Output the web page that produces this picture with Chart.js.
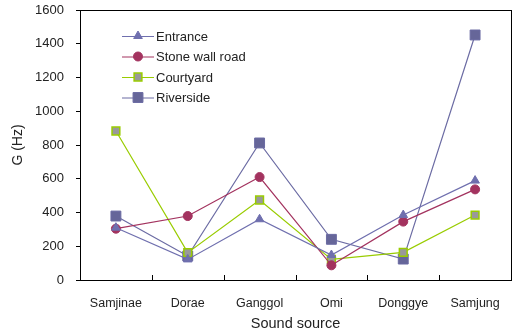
<!DOCTYPE html>
<html>
<head>
<meta charset="utf-8">
<script src="https://cdn.jsdelivr.net/npm/chart.js@4/dist/chart.umd.min.js"></script>
<style>
  html, body { margin: 0; padding: 0; background: #fff; }
  #wrap { width: 519px; height: 336px; }
</style>
</head>
<body>
<div id="wrap"><canvas id="gchart"></canvas></div>
<script>
// categories along x
const sources = ['Samjinae', 'Dorae', 'Ganggol', 'Omi', 'Donggye', 'Samjung'];
// G (Hz) per site
const entrance   = [310, 122, 360, 148, 385, 589];
const stoneWall  = [304, 379, 610, 87, 346, 537];
const courtyard  = [883, 162, 474, 122, 164, 385];
const riverside  = [379, 142, 812, 241, 124, 1452];
const yTicks = [0, 200, 400, 600, 800, 1000, 1200, 1400, 1600];

const FONT = '"Liberation Sans", Arial, sans-serif';
const ctx = document.querySelector('#gchart');

// box round the plot, inward ticks on x, and the legend inside the plot
const extras = {
  id: 'extras',
  afterDraw(chart) {
    const c = chart.ctx;
    const a = chart.chartArea;
    const x = chart.scales.x;
    c.save();
    c.strokeStyle = '#000';
    c.lineWidth = 1;
    c.strokeRect(Math.round(a.left) + 0.5, Math.round(a.top) + 0.5,
      Math.round(a.right - a.left), Math.round(a.bottom - a.top));
    // tick marks between categories, pointing up into the plot
    c.beginPath();
    for (let i = 0; i < sources.length - 1; i++) {
      const px = Math.round((x.getPixelForValue(i) + x.getPixelForValue(i + 1)) / 2) + 0.5;
      c.moveTo(px, a.bottom);
      c.lineTo(px, a.bottom - 5);
    }
    c.stroke();

    // legend
    const lx = a.left + 42, ly = a.top + 26, gap = 20.5;
    c.font = '13px ' + FONT;
    c.textBaseline = 'middle';
    chart.data.datasets.forEach((ds, i) => {
      const y = ly + i * gap;
      c.strokeStyle = ds.borderColor;
      c.lineWidth = 1;
      c.beginPath();
      c.moveTo(lx, y + 0.5);
      c.lineTo(lx + 32, y + 0.5);
      c.stroke();
      c.fillStyle = ds.backgroundColor;
      c.strokeStyle = ds.borderColor;
      c.lineWidth = ds.pointBorderWidth;
      Chart.helpers.drawPoint(c, {
        pointStyle: ds.pointStyle,
        radius: ds.pointRadius,
        borderWidth: ds.pointBorderWidth
      }, lx + 16, y);
      c.fillStyle = '#222';
      c.fillText(ds.label, lx + 34, y + 1);
    });
    c.restore();
  }
};

const gChart = new Chart(ctx, {
  type: 'line',
  data: {
    labels: sources,
    datasets: [
      {
        label: 'Entrance',
        data: entrance,
        borderColor: '#6f6fae',
        backgroundColor: '#6f6fae',
        pointStyle: 'triangle',
        pointRadius: 5,
        pointBorderWidth: 1
      },
      {
        label: 'Stone wall road',
        data: stoneWall,
        borderColor: '#a3335f',
        backgroundColor: '#a3335f',
        pointStyle: 'circle',
        pointRadius: 4.5,
        pointBorderWidth: 1
      },
      {
        label: 'Courtyard',
        data: courtyard,
        borderColor: '#99cc00',
        backgroundColor: '#999999',
        pointStyle: 'rect',
        pointRadius: 5.5,
        pointBorderWidth: 1.5
      },
      {
        label: 'Riverside',
        data: riverside,
        borderColor: '#6b6ba3',
        backgroundColor: '#666699',
        pointStyle: 'rect',
        pointRadius: 7,
        pointBorderWidth: 1
      }
    ]
  },
  options: {
    responsive: true,
    maintainAspectRatio: false,
    animation: false,
    layout: { padding: { top: 10, right: 4, left: 0, bottom: 0 } },
    elements: { line: { borderWidth: 1.2, tension: 0 } },
    plugins: {
      legend: { display: false },
      tooltip: { enabled: false }
    },
    scales: {
      x: {
        offset: true,
        grid: { display: false, drawTicks: false },
        border: { color: '#000' },
        ticks: {
          color: '#222',
          padding: 16,
          maxRotation: 0,
          font: { family: FONT, size: 12.5 }
        },
        title: {
          display: true,
          text: 'Sound source',
          color: '#222',
          padding: { top: 0, bottom: 3 },
          font: { family: FONT, size: 14.5 }
        },
        afterFit(scale) { scale.height = 56; scale.paddingLeft = 0; scale.paddingRight = 0; }
      },
      y: {
        min: 0,
        max: 1600,
        afterBuildTicks(scale) { scale.ticks = yTicks.map(v => ({ value: v })); },
        grid: { drawOnChartArea: false, tickLength: 4, color: '#000' },
        border: { color: '#000' },
        ticks: {
          color: '#222',
          padding: 12,
          callback: v => String(v),
          font: { family: FONT, size: 13 }
        },
        title: {
          display: true,
          text: 'G (Hz)',
          color: '#222',
          padding: { top: 10, bottom: 0 },
          font: { family: FONT, size: 14 }
        },
        afterFit(scale) { scale.width = 80; scale.paddingTop = 0; scale.paddingBottom = 0; }
      }
    }
  },
  plugins: [extras]
});
</script>
</body>
</html>
